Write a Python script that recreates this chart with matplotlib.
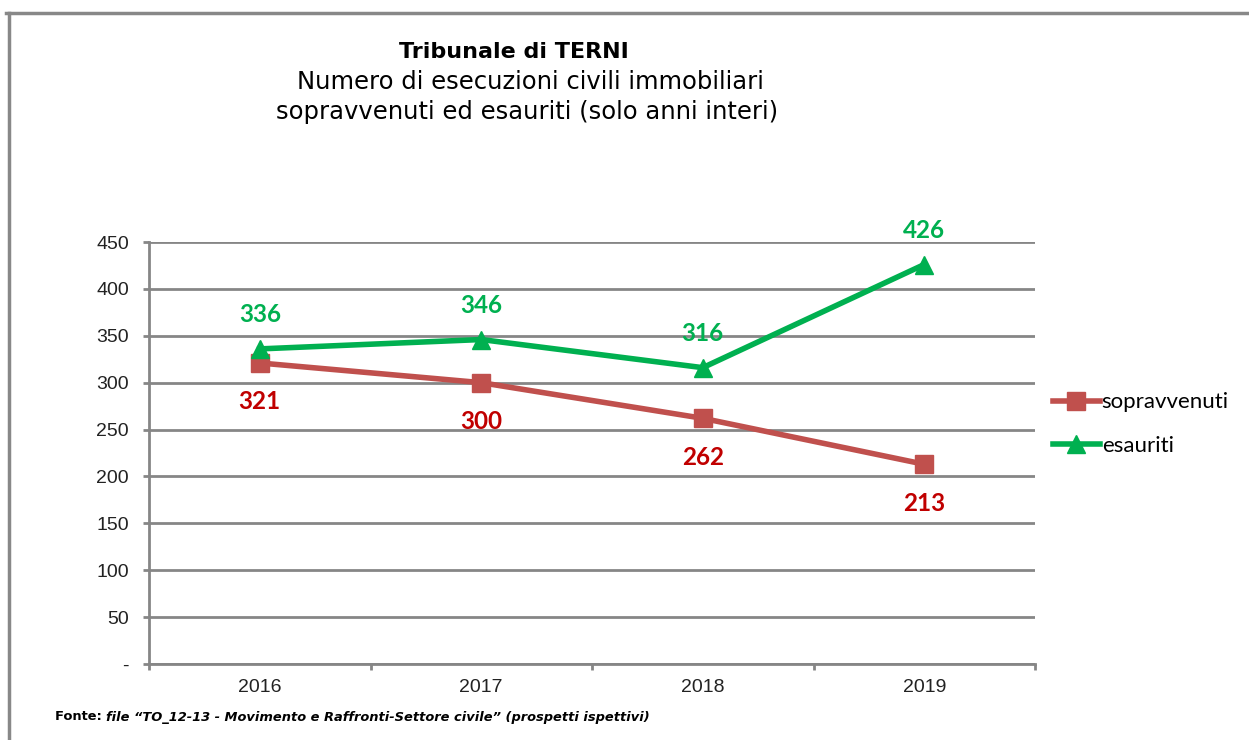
import matplotlib
matplotlib.use("Agg")
import matplotlib.pyplot as plt
from matplotlib.lines import Line2D

years = ["2016", "2017", "2018", "2019"]
sopravvenuti = [321, 300, 262, 213]
esauriti = [336, 346, 316, 426]
y_ticks = [0, 50, 100, 150, 200, 250, 300, 350, 400, 450]
y_tick_labels = ["-", "50", "100", "150", "200", "250", "300", "350", "400", "450"]

red_line = "#C0504D"
red_text = "#C00000"
green = "#00B050"
grid_gray = "#868686"

fig = plt.figure(figsize=(12.49, 7.40), dpi=100)
ax = fig.add_axes([149 / 1249, 1 - 664 / 740, (1035 - 149) / 1249, (664 - 242) / 740])

x = list(range(len(years)))
ax.plot(x, sopravvenuti, color=red_line, lw=4, marker="s", ms=13,
        label="sopravvenuti", zorder=3)
ax.plot(x, esauriti, color=green, lw=4, marker="^", ms=13,
        label="esauriti", zorder=3)

for xi, v in zip(x, sopravvenuti):
    ax.annotate(str(v), (xi, v), xytext=(0, -39), textcoords="offset pixels",
                ha="center", va="center", color=red_text, fontsize=17.5,
                fontweight="bold", family="Lato")
for xi, v in zip(x, esauriti):
    ax.annotate(str(v), (xi, v), xytext=(0, 34), textcoords="offset pixels",
                ha="center", va="center", color=green, fontsize=17.5,
                fontweight="bold", family="Lato")

ax.set_xlim(-0.5, len(years) - 0.5)
ax.set_ylim(0, 450)
ax.set_yticks(y_ticks)
ax.set_yticklabels(y_tick_labels, family="Liberation Sans", fontsize=14, color="#222222")
ax.set_xticks(x)
ax.set_xticklabels(years, family="Liberation Sans", fontsize=14, color="#222222")
ax.set_xticks([i - 0.5 for i in range(len(years) + 1)], minor=True)
ax.tick_params(axis="x", which="major", length=0, pad=11)
ax.tick_params(axis="x", which="minor", length=4.5, width=2, color=grid_gray)
ax.tick_params(axis="y", length=4.5, width=2, color=grid_gray, pad=10)

ax.grid(axis="y", color=grid_gray, lw=2)
ax.set_axisbelow(True)
for s in ["top", "right"]:
    ax.spines[s].set_visible(False)
for s in ["left", "bottom"]:
    ax.spines[s].set_color(grid_gray)
    ax.spines[s].set_linewidth(2)

fig.legend(loc="center left", bbox_to_anchor=(1044 / 1249, 1 - 424 / 740),
           frameon=False, prop={"family": "Lato", "size": 16},
           handlelength=2.1, handletextpad=0.1, labelspacing=1.05, borderaxespad=0)

fig.text(514 / 1249, 1 - 52 / 740, "Tribunale di TERNI", ha="center", va="center",
         fontsize=16, fontweight="bold", family="DejaVu Sans")
fig.text(530 / 1249, 1 - 82 / 740, "Numero di esecuzioni civili immobiliari",
         ha="center", va="center", fontsize=17.5, family="DejaVu Sans")
fig.text(527 / 1249, 1 - 112 / 740, "sopravvenuti ed esauriti (solo anni interi)",
         ha="center", va="center", fontsize=17.5, family="DejaVu Sans")

# source line
t1 = fig.text(55 / 1249, 1 - 717 / 740, "Fonte: ", ha="left", va="center",
              fontsize=9.4, fontweight="bold", family="DejaVu Sans")
fig.canvas.draw()
bb = t1.get_window_extent()
fig.text(bb.x1 / 1249, 1 - 717 / 740,
         "file \u201cTO_12-13 - Movimento e Raffronti-Settore civile\u201d (prospetti ispettivi)",
         ha="left", va="center", fontsize=9.4, fontweight="bold", style="italic",
         family="DejaVu Sans")

# outer frame (top and left)
fig.add_artist(Line2D([6 / 1249, 1], [1 - 13 / 740, 1 - 13 / 740],
                      color="#888888", lw=2.5, transform=fig.transFigure))
fig.add_artist(Line2D([9 / 1249, 9 / 1249], [0, 1 - 13 / 740],
                      color="#888888", lw=2.5, transform=fig.transFigure))

fig.savefig("out.png", dpi=100)
